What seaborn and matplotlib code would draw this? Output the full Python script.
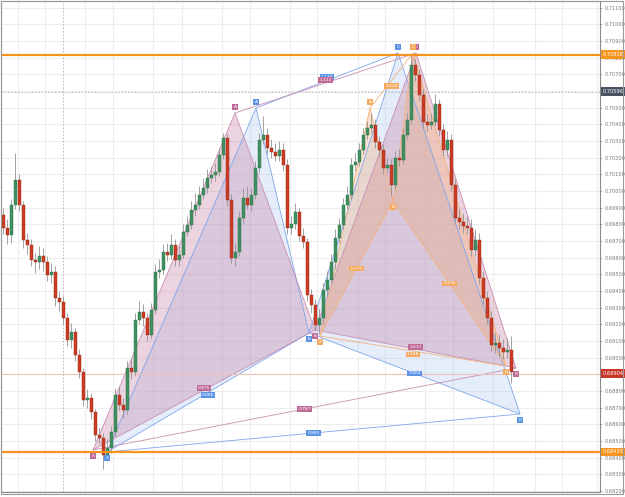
import numpy as np
import matplotlib
matplotlib.use("Agg")
import matplotlib.pyplot as plt
import matplotlib.transforms as mtransforms
from matplotlib.patches import Polygon, Rectangle
import seaborn as sns

# -----------------------------
# DATA
# -----------------------------
opens = [0.69856, 0.69778, 0.69736, 0.69916, 0.70066, 0.69916, 0.69706, 0.69676, 0.69586, 0.69574,
         0.69610, 0.69574, 0.69496, 0.69514, 0.69358, 0.69334, 0.69238, 0.69106, 0.69154, 0.69016,
         0.68914, 0.68746, 0.68758, 0.68674, 0.68536, 0.68518, 0.68416, 0.68458, 0.68554, 0.68776,
         0.68716, 0.68686, 0.68938, 0.68914, 0.69226, 0.69274, 0.69238, 0.69136, 0.69286, 0.69514,
         0.69526, 0.69634, 0.69616, 0.69676, 0.69586, 0.69616, 0.69754, 0.69796, 0.69886, 0.69916,
         0.69976, 0.70018, 0.70078, 0.70096, 0.70114, 0.70216, 0.70318, 0.69946, 0.69598, 0.69634,
         0.69838, 0.69958, 0.69916, 0.69976, 0.70138, 0.70306, 0.70336, 0.70258, 0.70234, 0.70210,
         0.70246, 0.70156, 0.69778, 0.69802, 0.69874, 0.69730, 0.69694, 0.69376, 0.69316, 0.69196,
         0.69238, 0.69406, 0.69466, 0.69574, 0.69718, 0.69796, 0.69916, 0.69976, 0.70156, 0.70174,
         0.70246, 0.70336, 0.70378, 0.70396, 0.70294, 0.70246, 0.70138, 0.70156, 0.70036, 0.70198,
         0.70186, 0.70336, 0.70426, 0.70756, 0.70696, 0.70576, 0.70414, 0.70396, 0.70414, 0.70522,
         0.70366, 0.70246, 0.70306, 0.70036, 0.69838, 0.69814, 0.69790, 0.69778, 0.69646, 0.69706,
         0.69478, 0.69358, 0.69238, 0.69076, 0.69088, 0.69058, 0.69034, 0.69046]
closes = [0.69778, 0.69736, 0.69916, 0.70066, 0.69916, 0.69706, 0.69676, 0.69586, 0.69574, 0.69610,
          0.69574, 0.69496, 0.69514, 0.69358, 0.69334, 0.69238, 0.69106, 0.69154, 0.69016, 0.68914,
          0.68746, 0.68758, 0.68674, 0.68536, 0.68518, 0.68416, 0.68458, 0.68554, 0.68776, 0.68716,
          0.68686, 0.68938, 0.68914, 0.69226, 0.69274, 0.69238, 0.69136, 0.69286, 0.69514, 0.69526,
          0.69634, 0.69616, 0.69676, 0.69586, 0.69616, 0.69754, 0.69796, 0.69886, 0.69916, 0.69976,
          0.70018, 0.70078, 0.70096, 0.70114, 0.70216, 0.70318, 0.69946, 0.69598, 0.69634, 0.69838,
          0.69958, 0.69916, 0.69976, 0.70138, 0.70306, 0.70336, 0.70258, 0.70234, 0.70210, 0.70246,
          0.70156, 0.69778, 0.69802, 0.69874, 0.69730, 0.69694, 0.69376, 0.69316, 0.69196, 0.69238,
          0.69406, 0.69466, 0.69574, 0.69718, 0.69796, 0.69916, 0.69976, 0.70156, 0.70174, 0.70246,
          0.70336, 0.70378, 0.70396, 0.70294, 0.70246, 0.70138, 0.70156, 0.70036, 0.70198, 0.70186,
          0.70336, 0.70426, 0.70756, 0.70696, 0.70576, 0.70414, 0.70396, 0.70414, 0.70522, 0.70366,
          0.70246, 0.70306, 0.70036, 0.69838, 0.69814, 0.69790, 0.69778, 0.69646, 0.69706, 0.69478,
          0.69358, 0.69238, 0.69076, 0.69088, 0.69058, 0.69034, 0.69046, 0.68914]
highs = [0.6990, 0.6983, 0.6995, 0.7023, 0.7010, 0.6994, 0.6975, 0.6971, 0.6963, 0.6967,
         0.6966, 0.6961, 0.6957, 0.6955, 0.6940, 0.6937, 0.6927, 0.6921, 0.6918, 0.6905,
         0.6894, 0.6881, 0.6879, 0.6869, 0.6858, 0.6855, 0.6851, 0.6859, 0.6882, 0.6883,
         0.6876, 0.6898, 0.6900, 0.6927, 0.6934, 0.6932, 0.6927, 0.6933, 0.6956, 0.6959,
         0.6968, 0.6969, 0.6974, 0.6971, 0.6967, 0.6980, 0.6985, 0.6994, 0.6999, 0.7003,
         0.7008, 0.7013, 0.7015, 0.7017, 0.7026, 0.7035, 0.7034, 0.6998, 0.6969, 0.6988,
         0.7002, 0.7003, 0.7002, 0.7018, 0.7035, 0.7045, 0.7038, 0.7031, 0.7029, 0.7030,
         0.7029, 0.7019, 0.6985, 0.6993, 0.6990, 0.6978, 0.6972, 0.6941, 0.6935, 0.6929,
         0.6945, 0.6952, 0.6962, 0.6977, 0.6984, 0.6996, 0.7003, 0.7020, 0.7023, 0.7029,
         0.7038, 0.7042, 0.7047, 0.7043, 0.7033, 0.7028, 0.7020, 0.7019, 0.7024, 0.7025,
         0.7038, 0.7047, 0.7082, 0.7079, 0.7073, 0.7061, 0.7046, 0.7047, 0.7058, 0.7055,
         0.7040, 0.7036, 0.7034, 0.7007, 0.6989, 0.6987, 0.6985, 0.6983, 0.6977, 0.6975,
         0.6952, 0.6940, 0.6928, 0.6915, 0.6914, 0.6911, 0.6912, 0.6913]
lows = [0.6974, 0.6968, 0.6969, 0.6989, 0.6988, 0.6966, 0.6962, 0.6955, 0.6951, 0.6953,
        0.6952, 0.6946, 0.6945, 0.6931, 0.6928, 0.6920, 0.6907, 0.6906, 0.6898, 0.6888,
        0.6871, 0.6870, 0.6863, 0.6850, 0.6848, 0.6833, 0.6838, 0.6843, 0.6853, 0.6868,
        0.6864, 0.6866, 0.6887, 0.6889, 0.6920, 0.6919, 0.6910, 0.6911, 0.6926, 0.6948,
        0.6950, 0.6958, 0.6959, 0.6955, 0.6955, 0.6960, 0.6973, 0.6977, 0.6985, 0.6989,
        0.6995, 0.6999, 0.7005, 0.7006, 0.7009, 0.7019, 0.6991, 0.6956, 0.6955, 0.6961,
        0.6981, 0.6989, 0.6988, 0.6995, 0.7011, 0.7028, 0.7022, 0.7020, 0.7018, 0.7018,
        0.7012, 0.6974, 0.6974, 0.6977, 0.6970, 0.6966, 0.6934, 0.6927, 0.6916, 0.6914,
        0.6920, 0.6937, 0.6944, 0.6954, 0.6969, 0.6977, 0.6989, 0.6995, 0.7012, 0.7015,
        0.7022, 0.7031, 0.7035, 0.7026, 0.7021, 0.7010, 0.7011, 0.6997, 0.7001, 0.7015,
        0.7016, 0.7031, 0.7040, 0.7066, 0.7054, 0.7038, 0.7036, 0.7037, 0.7039, 0.7033,
        0.7021, 0.7021, 0.7000, 0.6980, 0.6977, 0.6975, 0.6974, 0.6961, 0.6961, 0.6944,
        0.6932, 0.6920, 0.6904, 0.6903, 0.6901, 0.6899, 0.6900, 0.6885]

# harmonic patterns: X, A, B, C, D points (bar index, price)
pink_x = [22.5, 58.0, 78.0, 103.25, 128.25]
pink_y = [0.68446, 0.70468, 0.69166, 0.70828, 0.68938]
blue_x = [26.0, 63.25, 76.5, 98.75, 129.25]
blue_y = [0.68434, 0.70498, 0.69148, 0.70828, 0.68662]
orange_x = [79.25, 91.75, 97.5, 102.5, 125.75]
orange_y = [0.69130, 0.70498, 0.69940, 0.70828, 0.68950]
# ratios: XB, AC, BD, XD
pink_ratios = ["0.876", "1.112", "1.617", "0.787"]
blue_ratios = ["0.886", "1.130", "1.804", "0.885"]
orange_ratios = ["0.771", "1.618", "2.236", "1.138"]
point_names = ["X", "A", "B", "C", "D"]

level_top = 0.70818
level_bottom = 0.68435
bid_price = 0.68904
cross_price = 0.70596
cross_bar = 15
price_ticks = [round(0.682 + 0.001 * k, 3) for k in range(30)]
hidden_ticks = [0.706, 0.689]
grid_bars = [3.75, 10.5, 20.5, 27.5, 37.5, 44.75, 54.75, 61.75, 71.75, 78.5,
             88.75, 95.5, 105.5, 112.5, 122.5, 133, 139.75, 148.5]

# -----------------------------
# STYLE
# -----------------------------
sns.set_style("whitegrid", {"grid.color": "#ededed", "axes.edgecolor": "#8a8a8a"})
plt.rcParams["font.family"] = ["DejaVu Sans"]

fig = plt.figure(figsize=(6.25, 4.97), dpi=100)
ax = fig.add_axes([1 / 625, 5 / 497, 599 / 625, 491 / 497])
ax.set_xlim(-0.5, 149.25)
ax.set_ylim(0.68194, 0.71140)

# -----------------------------
# PATTERNS (blue first so pink tints the overlap)
# -----------------------------
patterns = [
    (blue_x, blue_y, blue_ratios, "#a3c0f2", "#7ea6ec", 0.28, "#5b93e6", (-2.0, 2.5, 0, 0)),
    (pink_x, pink_y, pink_ratios, "#c37a9f", "#c98fb3", 0.33, "#c06a98", (1.5, 2.0, 1.5, 0)),
    (orange_x, orange_y, orange_ratios, "#f2a56a", "#f3b27a", 0.30, "#f5ab5f", (0, -4.0, 0, -2.5)),
]

for px, py, ratios, fill, edge, alpha, lab, offs in patterns:
    pts = list(zip(px, py))
    for tri in (pts[0:3], pts[2:5]):
        ax.add_patch(Polygon(tri, closed=True, facecolor=fill, alpha=alpha,
                             edgecolor="none", zorder=1))
        ax.add_patch(Polygon(tri, closed=True, facecolor="none",
                             edgecolor=edge, lw=0.6, zorder=1.2))
    # A-C and X-D lines
    sns.lineplot(x=[px[1], px[3]], y=[py[1], py[3]], color=edge, lw=0.6,
                 sort=False, ax=ax, zorder=1.2)
    sns.lineplot(x=[px[0], px[4]], y=[py[0], py[4]], color=edge, lw=0.6,
                 sort=False, ax=ax, zorder=1.2)
    pairs = [(0, 2), (1, 3), (2, 4), (0, 4)]
    for (i, j), txt, off in zip(pairs, ratios, offs):
        ax.annotate(txt, ((px[i] + px[j]) / 2, (py[i] + py[j]) / 2), xytext=(0, off),
                    textcoords="offset points", fontsize=3.2, color="white",
                    ha="center", va="center", zorder=5,
                    bbox=dict(boxstyle="square,pad=0.2", fc=lab, ec="none"))
    for k, name in enumerate(point_names):
        dy = 4.5 if k in (1, 3) else -4.5
        ax.annotate(name, (px[k], py[k]), xytext=(0, dy), textcoords="offset points",
                    fontsize=3.2, color="white", ha="center", va="center", zorder=5,
                    bbox=dict(boxstyle="square,pad=0.25", fc=lab, ec="none"))

# -----------------------------
# CANDLES
# -----------------------------
idx = np.arange(len(closes))
o = np.array(opens)
c = np.array(closes)
up = c >= o
ax.vlines(idx, lows, highs, color="#939393", lw=0.6, zorder=2)
ax.bar(idx[up], (c - o)[up], bottom=o[up], width=0.75, color="#3f8f5f",
       edgecolor="#2f6f48", lw=0.3, zorder=3)
ax.bar(idx[~up], (c - o)[~up], bottom=o[~up], width=0.75, color="#cf3a22",
       edgecolor="#8e2a1a", lw=0.3, zorder=3)

# -----------------------------
# LEVELS
# -----------------------------
ax.axhline(level_top, color="#f7941d", lw=1.6, zorder=4)
ax.axhline(level_bottom, color="#f7941d", lw=1.6, zorder=4)
ax.axhline(bid_price, color="#efc2b8", lw=0.8, zorder=1.5)
ax.axhline(cross_price, color="#b0b0b0", lw=0.6, ls=(0, (2, 2)), zorder=1.5)
ax.axvline(cross_bar, color="#b0b0b0", lw=0.6, ls=(0, (2, 2)), zorder=1.5)

# -----------------------------
# AXES
# -----------------------------
ax.set_xticks(grid_bars)
ax.set_xticklabels([])
ax.set_yticks(price_ticks)
ax.yaxis.tick_right()
ax.set_yticklabels(["" if v in hidden_ticks else f"{v:.5f}" for v in price_ticks],
                   fontsize=3.6, color="#777777")
ax.tick_params(axis="y", length=1.5, width=0.4, pad=1.5, colors="#777777")
ax.tick_params(axis="x", length=0)
for s in ax.spines.values():
    s.set_linewidth(0.8)
    s.set_color("#8a8a8a")

trans = mtransforms.blended_transform_factory(ax.transAxes, ax.transData)
for val, fc in [(level_top, "#f7941d"), (level_bottom, "#f7941d"),
                (cross_price, "#4a5363"), (bid_price, "#c8372a")]:
    ax.text(1.004, val, f"{val:.5f}", transform=trans, fontsize=3.6, color="white",
            ha="left", va="center", zorder=6, clip_on=False,
            bbox=dict(boxstyle="square,pad=0.35", fc=fc, ec="none"))

fig.add_artist(Rectangle((0.0015, 0.006), 0.996, 0.992, transform=fig.transFigure,
                         fill=False, ec="#9a9a9a", lw=0.8))

fig.savefig("out.png", dpi=100)
